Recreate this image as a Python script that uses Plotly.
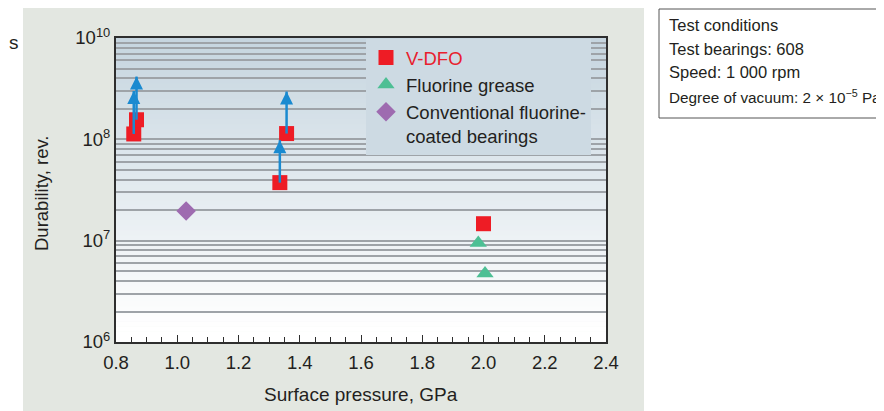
import plotly.graph_objects as go

# ---------------- data ----------------
vdfo_pressure = [0.858, 0.867, 1.335, 1.357, 2.0]
vdfo_durability = [1.13e8, 1.56e8, 3.74e7, 1.14e8, 1.47e7]
# lower-bound arrows (test suspended): tip value for each V-DFO point (None = no arrow)
vdfo_arrow_tips = [3.0e8, 4.16e8, 9.8e7, 2.96e8, None]

grease_pressure = [1.983, 2.005]
grease_durability = [9.5e6, 4.75e6]

conv_pressure = [1.029]
conv_durability = [1.96e7]

x_tick_values = [0.8, 1.0, 1.2, 1.4, 1.6, 1.8, 2.0, 2.2, 2.4]
x_tick_labels = ["0.8", "1.0", "1.2", "1.4", "1.6", "1.8", "2.0", "2.2", "2.4"]
y_label_values = [1e6, 1e7, 1e8, 1e9]
y_label_texts = ["10<sup>6</sup>", "10<sup>7</sup>", "10<sup>8</sup>", "10<sup>10</sup>"]

legend_names = ["V-DFO", "Fluorine grease", "Conventional fluorine-<br>coated bearings"]
conditions = ["Test conditions", "Test bearings: 608", "Speed: 1 000 rpm",
              "Degree of vacuum: 2 \u00d7 10<sup>\u22125</sup> Pa"]
condition_sizes = [16.5, 16.5, 16.5, 15.3]

# ---------------- style ----------------
OFF = 8  # page body margin
W, H = 884 - OFF, 411 - OFF
L, T = 116 - OFF, 38 - OFF
PW, PH = 490, 304
R, B = W - L - PW, H - T - PH
FONT = "Liberation Sans, Arial, Helvetica, sans-serif"
TXT = "#231f20"
RED = "#ee1c25"
GREEN = "#4dbf94"
PURPLE = "#9e6bb0"
BLUE = "#1a8ad0"
GRID = "#9ea3a8"
AXIS = "#2e2e2e"


def px(xp):
    return (xp - OFF - L) / PW


def py(yp):
    return (T + PH - (yp - OFF)) / PH


# minor gridlines at 2..9 x 10^n
minor_grid_vals = [m * 10 ** d for d in range(6, 9) for m in range(2, 10)]

fig = go.Figure()

fig.add_trace(go.Scatter(
    x=vdfo_pressure, y=vdfo_durability, mode="markers",
    name="<span style='color:%s'>%s</span>" % ("#e8202e", legend_names[0]),
    marker=dict(symbol="square", size=15, color=RED, line=dict(width=0)),
))
fig.add_trace(go.Scatter(
    x=grease_pressure, y=grease_durability, mode="markers", name=legend_names[1],
    marker=dict(symbol="triangle-up", size=15, color=GREEN, line=dict(width=0)),
))
fig.add_trace(go.Scatter(
    x=conv_pressure, y=conv_durability, mode="markers", name=legend_names[2],
    marker=dict(symbol="diamond", size=15, color=PURPLE, line=dict(width=0)),
))

# arrows
sx, sy, hx, hy = [], [], [], []
for x, y, tip in zip(vdfo_pressure, vdfo_durability, vdfo_arrow_tips):
    if tip is None:
        continue
    sx += [x, x, None]
    sy += [y, tip, None]
    hx.append(x)
    hy.append(tip)
fig.add_trace(go.Scatter(x=sx, y=sy, mode="lines", showlegend=False,
                         line=dict(color=BLUE, width=2.5), hoverinfo="skip"))
fig.add_trace(go.Scatter(x=hx, y=hy, mode="markers", showlegend=False,
                         marker=dict(symbol="arrow-up", size=13, color=BLUE,
                                     line=dict(width=0)), hoverinfo="skip"))

shapes = []
# grey panel behind chart
shapes.append(dict(type="rect", xref="paper", yref="paper",
                   x0=px(23), x1=px(644), y0=py(430), y1=py(8),
                   fillcolor="#e3e7e1", line=dict(width=0), layer="below"))
# gradient plot background
top = (0xc5, 0xd5, 0xdf)
bot = (0xff, 0xff, 0xff)
N = 60
for i in range(N):
    f0 = i / N
    f1 = (i + 1) / N
    t = (f0 + f1) / 2
    k = min(1.0, max(0.0, (t - 0.04) / 0.96))
    c = tuple(int(round(bot[j] + (top[j] - bot[j]) * k)) for j in range(3))
    shapes.append(dict(type="rect", xref="paper", yref="paper",
                       x0=0, x1=1, y0=f0, y1=f1 + 0.002,
                       fillcolor="rgb(%d,%d,%d)" % c, line=dict(width=0), layer="below"))
# test conditions box
shapes.append(dict(type="rect", xref="paper", yref="paper",
                   x0=px(659), x1=px(930), y0=py(118), y1=py(9),
                   fillcolor="white", line=dict(color="#555555", width=1), layer="above"))

annotations = []
for i, (line, fs) in enumerate(zip(conditions, condition_sizes)):
    annotations.append(dict(text=line, xref="paper", yref="paper", x=px(667), y=py(25 + i * 23.7),
                            xanchor="left", yanchor="middle", showarrow=False,
                            font=dict(family=FONT, size=fs, color=TXT)))
annotations.append(dict(text="Surface pressure, GPa", xref="paper", yref="paper",
                        x=px(361), y=py(394), xanchor="center", yanchor="middle",
                        showarrow=False, font=dict(family=FONT, size=19, color=TXT)))
annotations.append(dict(text="Durability, rev.", xref="paper", yref="paper",
                        x=px(42), y=py(194), xanchor="center", yanchor="middle", textangle=-90,
                        showarrow=False, font=dict(family=FONT, size=18.5, color=TXT)))
annotations.append(dict(text="s", xref="paper", yref="paper",
                        x=px(14), y=py(42), xanchor="center", yanchor="middle",
                        showarrow=False, font=dict(family=FONT, size=19, color=TXT)))

fig.update_layout(
    width=W, height=H,
    margin=dict(l=L, r=R, t=T, b=B, pad=0),
    paper_bgcolor="white", plot_bgcolor="white",
    font=dict(family=FONT, size=18.5, color=TXT),
    shapes=shapes, annotations=annotations,
    showlegend=True,
    legend=dict(x=px(366), y=py(39), xanchor="left", yanchor="top",
                bgcolor="#cddae3", borderwidth=0, valign="top",
                font=dict(family=FONT, size=18.5, color=TXT),
                itemwidth=30, tracegroupgap=0),
    xaxis=dict(range=[0.8, 2.4], tickmode="array", tickvals=x_tick_values, ticktext=x_tick_labels,
               ticks="inside", ticklen=7, tickwidth=1.2, tickcolor=AXIS, ticklabelstandoff=3,
               minor=dict(tickmode="linear", tick0=0.8, dtick=0.05, ticks="inside",
                          ticklen=5, tickwidth=1.2, tickcolor=AXIS, showgrid=False),
               showgrid=False, zeroline=False, showline=True, mirror=True,
               linecolor=AXIS, linewidth=2, tickfont=dict(size=18.5, color=TXT)),
    yaxis=dict(type="log", range=[6, 9], tickmode="array", tickvals=y_label_values,
               ticktext=y_label_texts,
               ticks="", showgrid=True, gridcolor=GRID, gridwidth=1.5, zeroline=False,
               minor=dict(tickmode="array", tickvals=minor_grid_vals, ticks="",
                          showgrid=True, gridcolor=GRID, gridwidth=1.5),
               showline=True, mirror=True, linecolor=AXIS, linewidth=2,
               tickfont=dict(size=18.5, color=TXT)),
)

fig.write_html("out.html")
